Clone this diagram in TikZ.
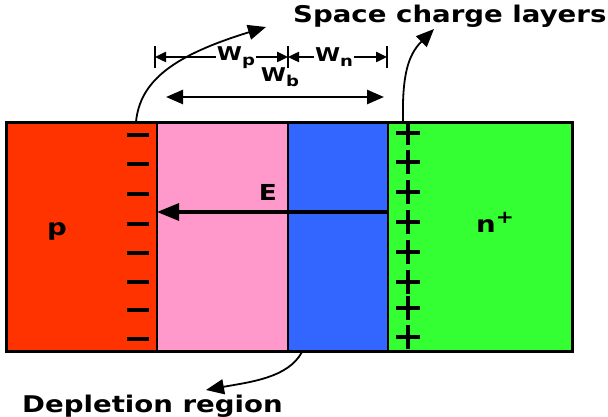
\documentclass[tikz,border=0pt]{standalone}
\usepackage{fontspec}
\newfontfamily\lbl{DejaVu Sans Bold}[FakeStretch=1.2]
\usetikzlibrary{arrows.meta}
\definecolor{pred}{HTML}{FF3300}
\definecolor{ppink}{HTML}{FF99CC}
\definecolor{pblue}{HTML}{3366FF}
\definecolor{pgreen}{HTML}{33FF33}
\tikzset{
  big/.style={font=\lbl\fontsize{23}{23}\selectfont, inner sep=0pt},
  mid/.style={font=\lbl\fontsize{19}{19}\selectfont, inner sep=0pt},
  dim/.style={line width=2.4pt, -{Triangle[length=11pt,width=10pt]}},
  tick/.style={line width=2.4pt},
  curv/.style={line width=1.8pt, -{Triangle[length=18pt,width=15pt]}},
  charge/.style={line width=3.6pt},
}
\newcommand{\subl}[1]{\raisebox{-5pt}{\fontsize{15}{15}\selectfont #1}}
\begin{document}
\begin{tikzpicture}[x=1pt,y=-1pt]
\useasboundingbox (0,0) rectangle (608,417);
% regions
\fill[pred] (6,123) rectangle (157,351);
\fill[ppink] (157,123) rectangle (288,351);
\fill[pblue] (288,123) rectangle (388,351);
\fill[pgreen] (388,123) rectangle (572,351);
\draw[line width=1.4pt] (157,123) -- (157,351) (288,123) -- (288,351) (388,123) -- (388,351);
\draw[line width=3pt] (6,123) rectangle (572,351);
% charges
\foreach \y in {135,164,194,224,253,282,310,339} \draw[charge] (127,\y) -- (149,\y);
\foreach \y in {133,162,192,222,252,282,308,337} \draw[charge] (396,\y) -- (420,\y) (408,\y-12) -- (408,\y+12);
% labels
\node[big] (p) at (57,231) {p};
\node[big, anchor=base west] (n) at (476,232) {n\raisebox{9pt}{\fontsize{18}{18}\selectfont+}};
\node[inner sep=0pt, font=\lbl\fontsize{22}{22}\selectfont] (E) at (268,192) {E};
% E field
\coordinate (Es) at (388,212);
\coordinate (Ee) at (157,212);
\draw[line width=3.2pt, -{Triangle[length=22pt,width=17pt]}] (Es) -- (Ee);
% dimensions
\node[mid] (wp) at (236,58) {W\subl{p}};
\node[mid] (wn) at (334,57) {W\subl{n}};
\node[mid] (wb) at (280,77) {W\subl{b}};
\coordinate (t1) at (155,57);
\coordinate (t2) at (288,57);
\coordinate (t3) at (387,57);
\draw[tick] (155,46) -- (155,68) (288,46) -- (288,68) (387,46) -- (387,68);
\draw[dim] (wp.west) ++(-1,-1) -- (t1);
\draw[dim] (wp.east) ++(1,-1) -- (t2);
\draw[dim] (wn.west) ++(-1,0) -- (t2);
\draw[dim] (wn.east) ++(1,0) -- (t3);
\coordinate (b1) at (166,97);
\coordinate (b2) at (384,97);
\draw[line width=2.6pt, {Triangle[length=17pt,width=14pt]}-{Triangle[length=17pt,width=14pt]}] (b1) -- (b2);
% texts
\node[big, anchor=base west] (scl) at (293,23) {Space charge layers};
\node[big, anchor=base west] (dep) at (22,412) {Depletion region};
% curved arrows
\coordinate (c1) at (136,122);
\coordinate (c1e) at (266,27);
\draw[curv] (c1) .. controls (140,80) and (175,55) .. (c1e);
\coordinate (c2) at (403,122);
\coordinate (c2e) at (434,29);
\draw[curv] (c2) .. controls (402,75) and (408,55) .. (c2e);
\coordinate (c3) at (302,352);
\coordinate (c3e) at (206,390);
\draw[curv] (c3) .. controls (288,378) and (250,382) .. (c3e);
\end{tikzpicture}
\end{document}
